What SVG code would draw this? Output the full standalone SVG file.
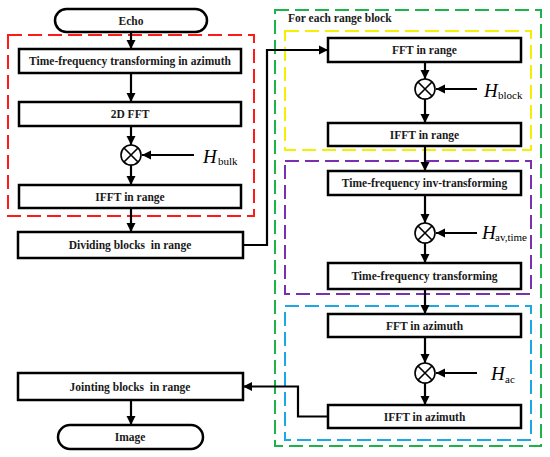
<svg xmlns="http://www.w3.org/2000/svg" width="550" height="457" viewBox="0 0 550 457">
<defs>
<marker id="ah" viewBox="0 0 10 10" refX="10" refY="5" markerWidth="4.2" markerHeight="4.2" orient="auto" markerUnits="strokeWidth">
<path d="M0,0 L10,5 L0,10 Z" fill="#000"/>
</marker>
<style>
.box{fill:#fff;stroke:#000;stroke-width:2.5}
.lbl{font-family:"Liberation Serif","Times New Roman",serif;font-weight:bold;font-size:11.5px;text-anchor:middle;fill:#1a1a1a;white-space:pre}
.conn{fill:none;stroke:#000;stroke-width:2.2}
.arr{marker-end:url(#ah)}
.mul{fill:#fff;stroke:#000;stroke-width:1.6}
.dash{fill:none;stroke-width:2;stroke-dasharray:14 6}
.H{font-family:"Liberation Serif","Times New Roman",serif;font-style:italic;font-size:19px;fill:#000}
.sub{font-family:"Liberation Serif","Times New Roman",serif;font-size:11px;fill:#000}
</style>
</defs>
<rect width="550" height="457" fill="#fff"/>

<g id="regions">
<rect class="dash" x="8" y="35" width="246" height="181" stroke="#ff1a1a"/>
<rect class="dash" x="275" y="10" width="266" height="436" stroke="#1db34a"/>
<rect class="dash" x="285" y="31" width="246" height="119" stroke="#f5f000"/>
<rect class="dash" x="285" y="161" width="246" height="133" stroke="#7a2fb0"/>
<rect class="dash" x="285" y="306" width="246" height="134" stroke="#1aa8e6"/>
<text x="288" y="22" style="font-family:'Liberation Serif','Times New Roman',serif;font-weight:bold;font-size:11.5px;fill:#1a1a1a">For each range block</text>
</g>

<g id="connectors">
<line class="conn arr" x1="131" y1="32" x2="131" y2="49"/>
<line class="conn arr" x1="131" y1="73" x2="131" y2="102"/>
<line class="conn arr" x1="131" y1="126" x2="131" y2="145"/>
<line class="conn arr" x1="131" y1="165" x2="131" y2="185"/>
<line class="conn arr" x1="131" y1="208" x2="131" y2="232"/>
<polyline class="conn arr" points="243,245 267,245 267,50 328,50"/>
<line class="conn arr" x1="425" y1="62" x2="425" y2="79"/>
<line class="conn arr" x1="425" y1="99" x2="425" y2="123"/>
<line class="conn arr" x1="425" y1="146" x2="425" y2="171"/>
<line class="conn arr" x1="425" y1="195" x2="425" y2="223"/>
<line class="conn arr" x1="425" y1="243" x2="425" y2="263"/>
<line class="conn arr" x1="425" y1="289" x2="425" y2="314"/>
<line class="conn arr" x1="425" y1="337" x2="425" y2="363"/>
<line class="conn arr" x1="425" y1="383" x2="425" y2="405"/>
<polyline class="conn arr" points="328,416.5 298,416.5 298,386.5 243,386.5"/>
<line class="conn arr" x1="131" y1="400" x2="131" y2="425"/>
<line class="conn arr" x1="194" y1="155" x2="142" y2="155"/>
<line class="conn arr" x1="477" y1="89" x2="436" y2="89"/>
<line class="conn arr" x1="477" y1="233" x2="436" y2="233"/>
<line class="conn arr" x1="477" y1="373" x2="436" y2="373"/>
</g>

<g id="echo"><rect class="box" x="55" y="9" width="152" height="23" rx="11.5"/><text class="lbl" x="131" y="24.5">Echo</text></g>
<g id="tf-azimuth"><rect class="box" x="19" y="49" width="222" height="24"/><text class="lbl" x="130" y="65">Time-frequency transforming in azimuth</text></g>
<g id="fft2d"><rect class="box" x="19" y="102" width="222" height="24"/><text class="lbl" x="130" y="118">2D FFT</text></g>
<g id="mul-bulk"><circle class="mul" cx="131" cy="155" r="10"/><path d="M124,148 L138,162 M138,148 L124,162" stroke="#000" stroke-width="1.6"/></g>
<g id="h-bulk"><text class="H" x="203" y="163">H</text><text class="sub" x="218" y="165">bulk</text></g>
<g id="ifft-range-l"><rect class="box" x="19" y="185" width="222" height="23"/><text class="lbl" x="130" y="200.5">IFFT in range</text></g>
<g id="dividing"><rect class="box" x="18" y="232" width="225" height="26"/><text class="lbl" x="130" y="249" xml:space="preserve">Dividing blocks  in range</text></g>
<g id="jointing"><rect class="box" x="18" y="373" width="225" height="27"/><text class="lbl" x="130" y="390.5" xml:space="preserve">Jointing blocks  in range</text></g>
<g id="image"><rect class="box" x="58" y="425" width="145" height="24" rx="12"/><text class="lbl" x="130" y="441">Image</text></g>

<g id="fft-range"><rect class="box" x="328" y="38" width="193" height="24"/><text class="lbl" x="424.5" y="54">FFT in range</text></g>
<g id="mul-block"><circle class="mul" cx="425" cy="89" r="10"/><path d="M418,82 L432,96 M432,82 L418,96" stroke="#000" stroke-width="1.6"/></g>
<g id="h-block"><text class="H" x="484" y="97">H</text><text class="sub" x="498" y="99">block</text></g>
<g id="ifft-range-r"><rect class="box" x="328" y="123" width="193" height="23"/><text class="lbl" x="424.5" y="138.5">IFFT in range</text></g>
<g id="tf-inv"><rect class="box" x="328" y="171" width="193" height="24"/><text class="lbl" x="424.5" y="187">Time-frequency inv-transforming</text></g>
<g id="mul-avtime"><circle class="mul" cx="425" cy="233" r="10"/><path d="M418,226 L432,240 M432,226 L418,240" stroke="#000" stroke-width="1.6"/></g>
<g id="h-avtime"><text class="H" x="482" y="239">H</text><text class="sub" x="495" y="241">av,time</text></g>
<g id="tf"><rect class="box" x="328" y="263" width="193" height="26"/><text class="lbl" x="424.5" y="280">Time-frequency transforming</text></g>
<g id="fft-az"><rect class="box" x="328" y="314" width="193" height="23"/><text class="lbl" x="424.5" y="329.5">FFT in azimuth</text></g>
<g id="mul-ac"><circle class="mul" cx="425" cy="373" r="10"/><path d="M418,366 L432,380 M432,366 L418,380" stroke="#000" stroke-width="1.6"/></g>
<g id="h-ac"><text class="H" x="491" y="380">H</text><text class="sub" x="505" y="383">ac</text></g>
<g id="ifft-az"><rect class="box" x="328" y="405" width="193" height="23"/><text class="lbl" x="424.5" y="420.5">IFFT in azimuth</text></g>
</svg>
